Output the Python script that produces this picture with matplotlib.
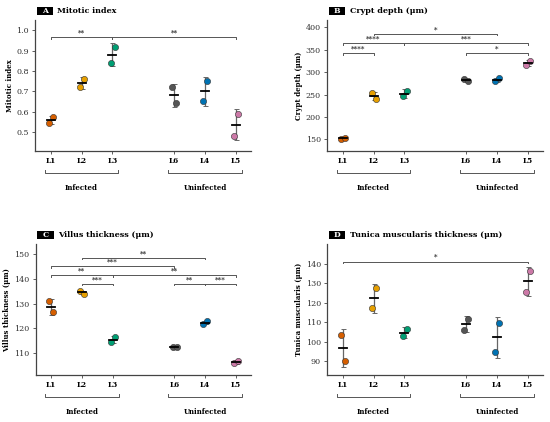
import numpy as np
import matplotlib
matplotlib.use('Agg')
import matplotlib.pyplot as plt
from matplotlib.patches import Rectangle
from matplotlib.transforms import blended_transform_factory

plt.rcParams['font.family'] = 'DejaVu Serif'

# group order and x positions on the axis
groups = ['L1', 'L2', 'L3', 'L6', 'L4', 'L5']
xpos = [1, 2, 3, 5, 6, 7]
colors = ['#D55E00', '#E69F00', '#009E73', '#555555', '#0072B2', '#CC79A7']

# two replicates per group, stored [left point, right point]
mitotic = [[0.545, 0.572], [0.72, 0.76], [0.84, 0.92], [0.72, 0.64], [0.65, 0.75], [0.48, 0.59]]
crypt = [[152, 154], [254, 241], [246, 259], [284, 281], [280, 286], [316, 325]]
villus = [[131.0, 126.5], [135.0, 134.0], [114.5, 116.3], [112.3, 112.6], [121.8, 122.8], [105.8, 106.8]]
tunica = [[103.8, 90.2], [117.2, 127.6], [102.8, 106.7], [106.3, 112.0], [94.8, 109.8], [125.8, 136.2]]

# significance brackets: (from group, to group, y, label)
sig_a = [('L1', 'L3', 0.967, '**'), ('L3', 'L5', 0.967, '**')]
sig_b = [('L2', 'L4', 386, '*'), ('L1', 'L3', 365, '****'), ('L3', 'L5', 365, '***'),
         ('L1', 'L2', 343, '****'), ('L6', 'L5', 343, '*')]
sig_c = [('L2', 'L4', 148.6, '**'), ('L1', 'L6', 145.1, '***'), ('L1', 'L3', 141.4, '**'),
         ('L3', 'L5', 141.4, '**'), ('L2', 'L3', 138.0, '***'), ('L6', 'L4', 138.0, '**'),
         ('L4', 'L5', 138.0, '***')]
sig_d = [('L1', 'L5', 141.2, '*')]

panels = [
    ('A', 'Mitotic index', 'Mitotic index', mitotic, sig_a, (0.405, 1.05), np.arange(0.5, 1.01, 0.1), '{:.1f}'),
    ('B', 'Crypt depth (μm)', 'Crypt depth (μm)', crypt, sig_b, (124, 416), np.arange(150, 401, 50), '{:.0f}'),
    ('C', 'Villus thickness (μm)', 'Villus thickness (μm)', villus, sig_c, (101, 154), np.arange(110, 151, 10), '{:.0f}'),
    ('D', 'Tunica muscularis thickness (μm)', 'Tunica muscularis (μm)', tunica, sig_d, (83, 150), np.arange(90, 141, 10), '{:.0f}'),
]
rects = [(0.064, 0.642, 0.393, 0.31), (0.595, 0.642, 0.393, 0.31),
         (0.065, 0.111, 0.392, 0.31), (0.595, 0.111, 0.393, 0.31)]
jit = [-0.06, 0.07]
pos = dict(zip(groups, xpos))
line_col = '#555555'

fig = plt.figure(figsize=(5.5, 4.22), dpi=100)
for (letter, title, ylab, data, sigs, ylim, yt, fmt), rect in zip(panels, rects):
    ax = fig.add_axes(rect)
    yr = ylim[1] - ylim[0]
    for x, vals, c in zip(xpos, data, colors):
        vals = np.array(vals, dtype=float)
        m = vals.mean(); sd = vals.std(ddof=1)
        ax.errorbar(x, m, yerr=sd, fmt='none', ecolor='#666666', elinewidth=0.9, capsize=1.8, capthick=0.7, zorder=2)
        ax.scatter([x + j for j in jit], vals, s=20, color=c, edgecolor='#333333', linewidth=0.4, zorder=3)
        ax.plot([x - 0.13, x + 0.13], [m, m], color='black', lw=1.3, zorder=4)
    tk = 0.012 * yr
    for g1, g2, y, lab in sigs:
        x1, x2 = pos[g1], pos[g2]
        ax.plot([x1, x1, x2, x2], [y - tk, y, y, y - tk], color=line_col, lw=0.7, zorder=1)
        ax.text((x1 + x2) / 2, y + 0.004 * yr, lab, ha='center', va='bottom', fontsize=5, fontweight='bold', color='#333333')
    ax.set_xlim(0.5, 7.5)
    ax.set_ylim(*ylim)
    ax.set_xticks(xpos)
    ax.set_xticklabels(groups, fontsize=5.2, fontweight='bold')
    ax.set_yticks(yt)
    ax.set_yticklabels([fmt.format(v) for v in yt], fontsize=5.8, color='#333333')
    ax.set_ylabel(ylab, fontsize=5, fontweight='bold', labelpad=2)
    for s in ['top', 'right']:
        ax.spines[s].set_visible(False)
    for s in ['left', 'bottom']:
        ax.spines[s].set_color('#444444')
        ax.spines[s].set_linewidth(0.9)
    ax.tick_params(length=2.5, width=0.6, color='#444444', pad=2)
    # group brackets under the axis
    tr = blended_transform_factory(ax.transData, ax.transAxes)
    for a, b, name in [(0.81, 3.19, 'Infected'), (4.81, 7.19, 'Uninfected')]:
        ax.plot([a, a, b, b], [-0.145, -0.168, -0.168, -0.145], transform=tr, clip_on=False, color=line_col, lw=0.7)
        ax.text((a + b) / 2, -0.285, name, transform=tr, ha='center', va='center', fontsize=5, fontweight='bold')
    # panel title with black letter box
    ax.add_patch(Rectangle((0.008, 1.037), 0.075, 0.068, transform=ax.transAxes, facecolor='black',
                           edgecolor='none', clip_on=False))
    ax.text(0.0455, 1.071, letter, transform=ax.transAxes, ha='center', va='center', fontsize=5.5,
            fontweight='bold', color='white')
    ax.text(0.103, 1.071, title, transform=ax.transAxes, ha='left', va='center', fontsize=5.8, fontweight='bold')

fig.savefig('out.png', dpi=100)
